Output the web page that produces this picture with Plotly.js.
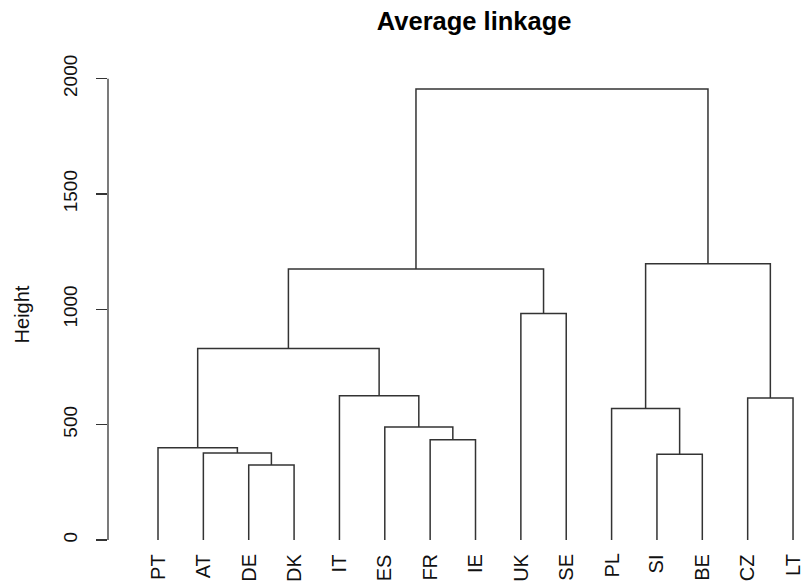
<!DOCTYPE html>
<html>
<head>
<meta charset="utf-8">
<script src="https://cdn.plot.ly/plotly-3.0.1.min.js"></script>
<style>
  html, body { margin: 0; padding: 0; background: #fff; }
  #chart { width: 805px; height: 586px; }
</style>
</head>
<body>
<div id="chart"></div>
<script>
// Leaf labels in dendrogram order (left to right)
const labels = ["PT", "AT", "DE", "DK", "IT", "ES", "FR", "IE", "UK", "SE", "PL", "SI", "BE", "CZ", "LT"];

// Merge steps, hclust-style: negative = leaf (1-based position in labels), positive = earlier merge step
const mergeLeft  = [-3, -12, -2, -1, -7, -6, -11, -14, -5,  4, -9, 10,  7, 12];
const mergeRight = [-4, -13,  1,  3, -8,  5,   2, -15,  6,  9, -10, 11,  8, 13];

// Linkage heights for each merge step (average linkage)
const mergeHeight = [325, 372, 377, 400, 434, 490, 570, 615, 625, 830, 982, 1175, 1198, 1955];

// Y axis ticks
const yTicks = [0, 500, 1000, 1500, 2000];

// Position (x, y) of a node: leaves sit at their order index and height 0
const nodeX = [], nodeY = [];
function nodePos(ref) {
  if (ref < 0) return [-ref, 0];
  return [nodeX[ref - 1], nodeY[ref - 1]];
}

// Build the bracket segments for each merge
const segX = [], segY = [];
for (let i = 0; i < mergeHeight.length; i++) {
  const [xl, yl] = nodePos(mergeLeft[i]);
  const [xr, yr] = nodePos(mergeRight[i]);
  const h = mergeHeight[i];
  segX.push(xl, xl, xr, xr, null);
  segY.push(yl, h, h, yr, null);
  nodeX.push((xl + xr) / 2);
  nodeY.push(h);
}

const font = "Liberation Sans, Arial, sans-serif";
const textColor = "#111";

const traces = [{
  x: segX,
  y: segY,
  mode: "lines",
  type: "scatter",
  line: { color: "#333", width: 1.5 },
  hoverinfo: "skip",
  showlegend: false,
  connectgaps: false
}];

// Leaf labels hang below each leaf, reading upward
const leafAnnotations = labels.map((lab, i) => ({
  x: i + 1,
  y: -52,
  xref: "x",
  yref: "y",
  text: lab,
  showarrow: false,
  textangle: -90,
  xanchor: "center",
  yanchor: "top",
  font: { family: font, size: 20, color: textColor }
}));

const layout = {
  width: 805,
  height: 586,
  margin: { l: 108, r: 0, t: 71, b: 28 },
  paper_bgcolor: "#fff",
  plot_bgcolor: "#fff",
  showlegend: false,
  title: {
    text: "<b>Average linkage</b>",
    font: { family: font, size: 25.5, color: "#000" },
    x: 0.589,
    xref: "container",
    xanchor: "center",
    y: 1 - 21 / 586,
    yref: "container",
    yanchor: "middle"
  },
  xaxis: {
    range: [-0.1023, 15.264],
    visible: false,
    fixedrange: true
  },
  yaxis: {
    range: [-78.2, 2033.2],
    tickvals: yTicks,
    ticktext: yTicks.map(String),
    ticks: "outside",
    ticklen: 11,
    tickwidth: 1.3,
    tickcolor: "#333",
    tickangle: -90,
    ticklabelstandoff: 11,
    tickfont: { family: font, size: 19, color: textColor },
    showgrid: false,
    zeroline: false,
    showline: false,
    automargin: false,
    title: {
      text: "Height",
      font: { family: font, size: 20, color: textColor },
      standoff: 25
    },
    fixedrange: true
  },
  shapes: [{
    type: "line",
    xref: "paper",
    yref: "y",
    x0: 0, x1: 0,
    y0: yTicks[0], y1: yTicks[yTicks.length - 1],
    line: { color: "#333", width: 1.3 }
  }],
  annotations: leafAnnotations
};

Plotly.newPlot("chart", traces, layout, { displayModeBar: false, staticPlot: true });
</script>
</body>
</html>
